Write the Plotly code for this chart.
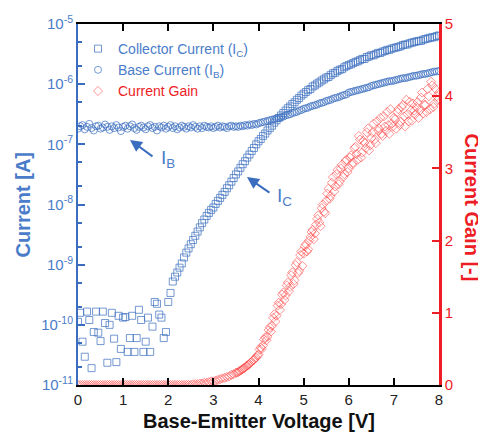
import plotly.graph_objects as go

# Base-emitter voltage sweep [V] (0 to 8 V, 0.05 V steps)
voltage = [round(0.05 * i, 2) for i in range(161)]

# Collector current, log10 of amps
ic_exponent = [
    -9.95, -9.80, -10.28, -10.53, -9.78, -9.92, -10.72, -10.12, -9.78, -10.13,
    -10.27, -9.78, -9.97, -10.63, -10.00, -9.80, -10.23, -10.62, -9.85, -10.40,
    -9.88, -9.87, -10.45, -10.22, -9.85, -10.45, -10.22, -9.75, -9.92, -10.45,
    -10.28, -9.88, -10.45, -10.03, -9.62, -9.65, -9.83, -9.88, -10.22, -10.12,
    -9.62, -9.47, -9.28, -9.20, -9.13, -9.05, -8.98, -8.88, -8.80, -8.73,
    -8.66, -8.59, -8.52, -8.45, -8.38, -8.31, -8.25, -8.19, -8.14, -8.09,
    -8.05, -7.99, -7.94, -7.89, -7.84, -7.79, -7.73, -7.68, -7.62, -7.56,
    -7.50, -7.45, -7.39, -7.33, -7.28, -7.22, -7.17, -7.11, -7.06, -7.00,
    -6.95, -6.91, -6.86, -6.82, -6.77, -6.73, -6.69, -6.64, -6.60, -6.56,
    -6.52, -6.48, -6.44, -6.40, -6.37, -6.33, -6.30, -6.26, -6.23, -6.19,
    -6.16, -6.13, -6.10, -6.08, -6.04, -6.02, -5.99, -5.97, -5.94, -5.92,
    -5.89, -5.88, -5.85, -5.82, -5.81, -5.78, -5.76, -5.75, -5.72, -5.70,
    -5.68, -5.67, -5.65, -5.63, -5.62, -5.60, -5.58, -5.58, -5.55, -5.54,
    -5.52, -5.52, -5.50, -5.48, -5.48, -5.46, -5.45, -5.43, -5.43, -5.41,
    -5.40, -5.39, -5.38, -5.37, -5.35, -5.34, -5.34, -5.32, -5.31, -5.30,
    -5.29, -5.28, -5.28, -5.26, -5.25, -5.24, -5.23, -5.22, -5.22, -5.20,
    -5.19,
]

# Base current, log10 of amps
ib_exponent = [
    -6.74, -6.70, -6.68, -6.75, -6.71, -6.66, -6.73, -6.77, -6.70, -6.69,
    -6.74, -6.72, -6.67, -6.71, -6.76, -6.70, -6.73, -6.68, -6.72, -6.78,
    -6.71, -6.69, -6.74, -6.70, -6.67, -6.73, -6.76, -6.71, -6.69, -6.72,
    -6.75, -6.70, -6.68, -6.73, -6.71, -6.77, -6.70, -6.72, -6.69, -6.74,
    -6.71, -6.68, -6.73, -6.70, -6.75, -6.72, -6.69, -6.71, -6.74, -6.70,
    -6.72, -6.68, -6.71, -6.74, -6.70, -6.73, -6.69, -6.71, -6.72, -6.70,
    -6.73, -6.71, -6.69, -6.72, -6.70, -6.71, -6.73, -6.70, -6.69, -6.71,
    -6.70, -6.71, -6.69, -6.70, -6.68, -6.69, -6.67, -6.68, -6.66, -6.67,
    -6.65, -6.64, -6.63, -6.62, -6.61, -6.60, -6.59, -6.58, -6.57, -6.56,
    -6.55, -6.54, -6.52, -6.51, -6.50, -6.48, -6.47, -6.46, -6.44, -6.43,
    -6.41, -6.40, -6.39, -6.37, -6.36, -6.35, -6.34, -6.32, -6.31, -6.30,
    -6.28, -6.27, -6.26, -6.24, -6.23, -6.22, -6.21, -6.19, -6.18, -6.17,
    -6.14, -6.13, -6.12, -6.11, -6.10, -6.09, -6.08, -6.07, -6.06, -6.05,
    -6.03, -6.02, -6.01, -6.00, -5.99, -5.98, -5.97, -5.96, -5.95, -5.95,
    -5.94, -5.93, -5.92, -5.91, -5.90, -5.90, -5.89, -5.88, -5.87, -5.86,
    -5.86, -5.85, -5.84, -5.83, -5.83, -5.82, -5.81, -5.80, -5.79, -5.79,
    -5.78,
]

# Current gain (IC / IB) [-] at the main voltage steps
current_gain = [
    0.00, 0.00, 0.00, 0.00, 0.00, 0.00, 0.00, 0.00, 0.00, 0.00,
    0.00, 0.00, 0.00, 0.00, 0.00, 0.00, 0.00, 0.00, 0.00, 0.00,
    0.00, 0.00, 0.00, 0.00, 0.00, 0.00, 0.00, 0.00, 0.00, 0.00,
    0.00, 0.00, 0.00, 0.00, 0.00, 0.00, 0.00, 0.00, 0.00, 0.00,
    0.00, 0.00, 0.00, 0.00, 0.00, 0.00, 0.00, 0.00, 0.00, 0.00,
    0.00, 0.01, 0.01, 0.01, 0.02, 0.02, 0.03, 0.03, 0.04, 0.05,
    0.05, 0.06, 0.07, 0.08, 0.09, 0.10, 0.11, 0.12, 0.14, 0.15,
    0.17, 0.18, 0.20, 0.22, 0.24, 0.27, 0.29, 0.32, 0.35, 0.38,
    0.42, 0.52, 0.55, 0.66, 0.67, 0.80, 0.82, 0.98, 0.96, 1.14,
    1.12, 1.28, 1.24, 1.42, 1.36, 1.56, 1.45, 1.70, 1.58, 1.85,
    1.82, 1.95, 1.88, 2.05, 2.15, 2.10, 2.30, 2.25, 2.45, 2.40,
    2.55, 2.72, 2.62, 2.88, 2.75, 2.98, 2.82, 3.05, 2.92, 3.12,
    3.00, 3.18, 3.08, 3.30, 3.12, 3.40, 3.22, 3.35, 3.50, 3.25,
    3.42, 3.62, 3.35, 3.52, 3.70, 3.45, 3.58, 3.78, 3.48, 3.62,
    3.70, 3.55, 3.82, 3.65, 3.88, 3.58, 3.75, 3.92, 3.66, 3.80,
    3.85, 3.70, 3.98, 3.76, 3.88, 4.10, 3.82, 4.15, 3.90, 4.00,
    4.05,
]

# Extra gain readings between the main steps (3.525 V to 7.975 V)
gain_voltage_mid = [round(3.525 + 0.05 * i, 3) for i in range(90)]
current_gain_mid = [
    0.17, 0.19, 0.21, 0.23, 0.26, 0.28, 0.31, 0.34, 0.37, 0.41,
    0.49, 0.50, 0.63, 0.62, 0.76, 0.74, 0.93, 0.88, 1.10, 1.04,
    1.25, 1.18, 1.38, 1.30, 1.52, 1.40, 1.66, 1.55, 1.80, 1.65,
    1.92, 1.85, 2.00, 2.12, 2.02, 2.22, 2.35, 2.20, 2.50, 2.38,
    2.65, 2.58, 2.80, 2.68, 2.92, 2.78, 3.00, 2.88, 3.10, 2.95,
    3.15, 3.05, 3.28, 3.20, 3.45, 3.15, 3.38, 3.28, 3.55, 3.32,
    3.50, 3.40, 3.65, 3.55, 3.48, 3.72, 3.52, 3.60, 3.82, 3.58,
    3.68, 3.78, 3.60, 3.85, 3.72, 3.95, 3.65, 3.80, 3.90, 3.75,
    3.92, 3.80, 4.05, 3.88, 3.78, 4.00, 4.20, 3.85, 4.10, 3.95,
]

x_ticks = [0, 1, 2, 3, 4, 5, 6, 7, 8]
current_tick_exponents = [-11, -10, -9, -8, -7, -6, -5]
gain_ticks = [0, 1, 2, 3, 4, 5]

BLUE = "#3b6dbf"
BLUE_TEXT = "#4a7cc9"
RED = "#ee1c25"
FONT = "Arial, Liberation Sans, sans-serif"

collector_current = [10 ** e for e in ic_exponent]
base_current = [10 ** e for e in ib_exponent]

fig = go.Figure()
fig.add_trace(go.Scatter(
    x=voltage, y=collector_current, mode="markers",
    name=f'<span style="color:{BLUE_TEXT}">Collector Current (I<sub>C</sub>)</span>',
    marker=dict(symbol="square-open", size=7, color=BLUE, opacity=0.7, line=dict(width=1)),
))
fig.add_trace(go.Scatter(
    x=voltage, y=base_current, mode="markers",
    name=f'<span style="color:{BLUE_TEXT}">Base Current (I<sub>B</sub>)</span>',
    marker=dict(symbol="circle-open", size=7, color=BLUE, opacity=0.7, line=dict(width=1)),
))
fig.add_trace(go.Scatter(
    x=voltage + gain_voltage_mid, y=current_gain + current_gain_mid,
    mode="markers", yaxis="y2",
    name=f'<span style="color:{RED}">Current Gain</span>',
    marker=dict(symbol="diamond-open", size=7, color="#ff3b3b", opacity=0.55, line=dict(width=1)),
))

# The page body adds an 8 px offset, so the figure is sized to fit the window.
fig.update_layout(
    width=478, height=426,
    margin=dict(l=70, r=47, t=16, b=49, autoexpand=False),
    paper_bgcolor="white", plot_bgcolor="white",
    font=dict(family=FONT, size=14, color="black"),
    showlegend=True,
    legend=dict(x=0.0, y=0.975, xanchor="left", yanchor="top",
                bgcolor="rgba(0,0,0,0)", font=dict(size=14), tracegroupgap=0,
                itemwidth=30),
    xaxis=dict(
        range=[0, 8], tickvals=x_ticks, ticks="inside", ticklen=7, tickwidth=1.5,
        tickcolor="black", showline=True, linecolor="black", linewidth=1.5,
        mirror="ticks", showgrid=False, zeroline=False, automargin=False,
        tickfont=dict(size=15, color="#222"),
    ),
    yaxis=dict(
        type="log", range=[-11, -5],
        tickvals=[10 ** e for e in current_tick_exponents],
        ticktext=[f"10<sup>{e}</sup>" for e in current_tick_exponents],
        ticks="inside", ticklen=7, tickwidth=1.5, tickcolor=BLUE,
        showline=True, linecolor=BLUE, linewidth=2, mirror=False,
        showgrid=False, zeroline=False, automargin=False,
        tickfont=dict(size=15, color=BLUE_TEXT),
        minor=dict(ticks="inside", ticklen=4, tickcolor=BLUE, showgrid=False),
    ),
    yaxis2=dict(
        range=[0, 5], tickvals=gain_ticks, overlaying="y", side="right",
        ticks="inside", ticklen=7, tickwidth=1.5, tickcolor=RED,
        showline=True, linecolor=RED, linewidth=2.5, automargin=False,
        showgrid=False, zeroline=False,
        tickfont=dict(size=15, color=RED),
    ),
    annotations=[
        dict(text="<b>Current [A]</b>", xref="paper", yref="paper", x=-0.155, y=0.5,
             xanchor="center", yanchor="middle",
             textangle=-90, showarrow=False, font=dict(size=20, color=BLUE_TEXT)),
        dict(text="<b>Current Gain [-]</b>", xref="paper", yref="paper", x=1.09, y=0.49,
             xanchor="center", yanchor="middle",
             textangle=90, showarrow=False, font=dict(size=20, color=RED)),
        dict(text="<b>Base-Emitter Voltage [V]</b>", xref="paper", yref="paper", x=0.5, y=-0.1,
             xanchor="center", yanchor="middle",
             showarrow=False, font=dict(size=20, color="#111")),
        dict(text=" ", xref="paper", yref="paper", x=0.144, y=0.679, ax=26, ay=19,
             showarrow=True, arrowhead=2, arrowsize=1.2, arrowwidth=2, arrowcolor=BLUE, standoff=0),
        dict(text=" ", xref="paper", yref="paper", x=0.468, y=0.576, ax=26, ay=18,
             showarrow=True, arrowhead=2, arrowsize=1.2, arrowwidth=2, arrowcolor=BLUE, standoff=0),
        dict(text="I<sub>B</sub>", xref="paper", yref="paper", x=0.249, y=0.625,
             xanchor="center", yanchor="middle",
             showarrow=False, font=dict(size=19, color=BLUE_TEXT)),
        dict(text="I<sub>C</sub>", xref="paper", yref="paper", x=0.573, y=0.52,
             xanchor="center", yanchor="middle",
             showarrow=False, font=dict(size=19, color=BLUE_TEXT)),
    ],
)

fig.write_html("out.html")
